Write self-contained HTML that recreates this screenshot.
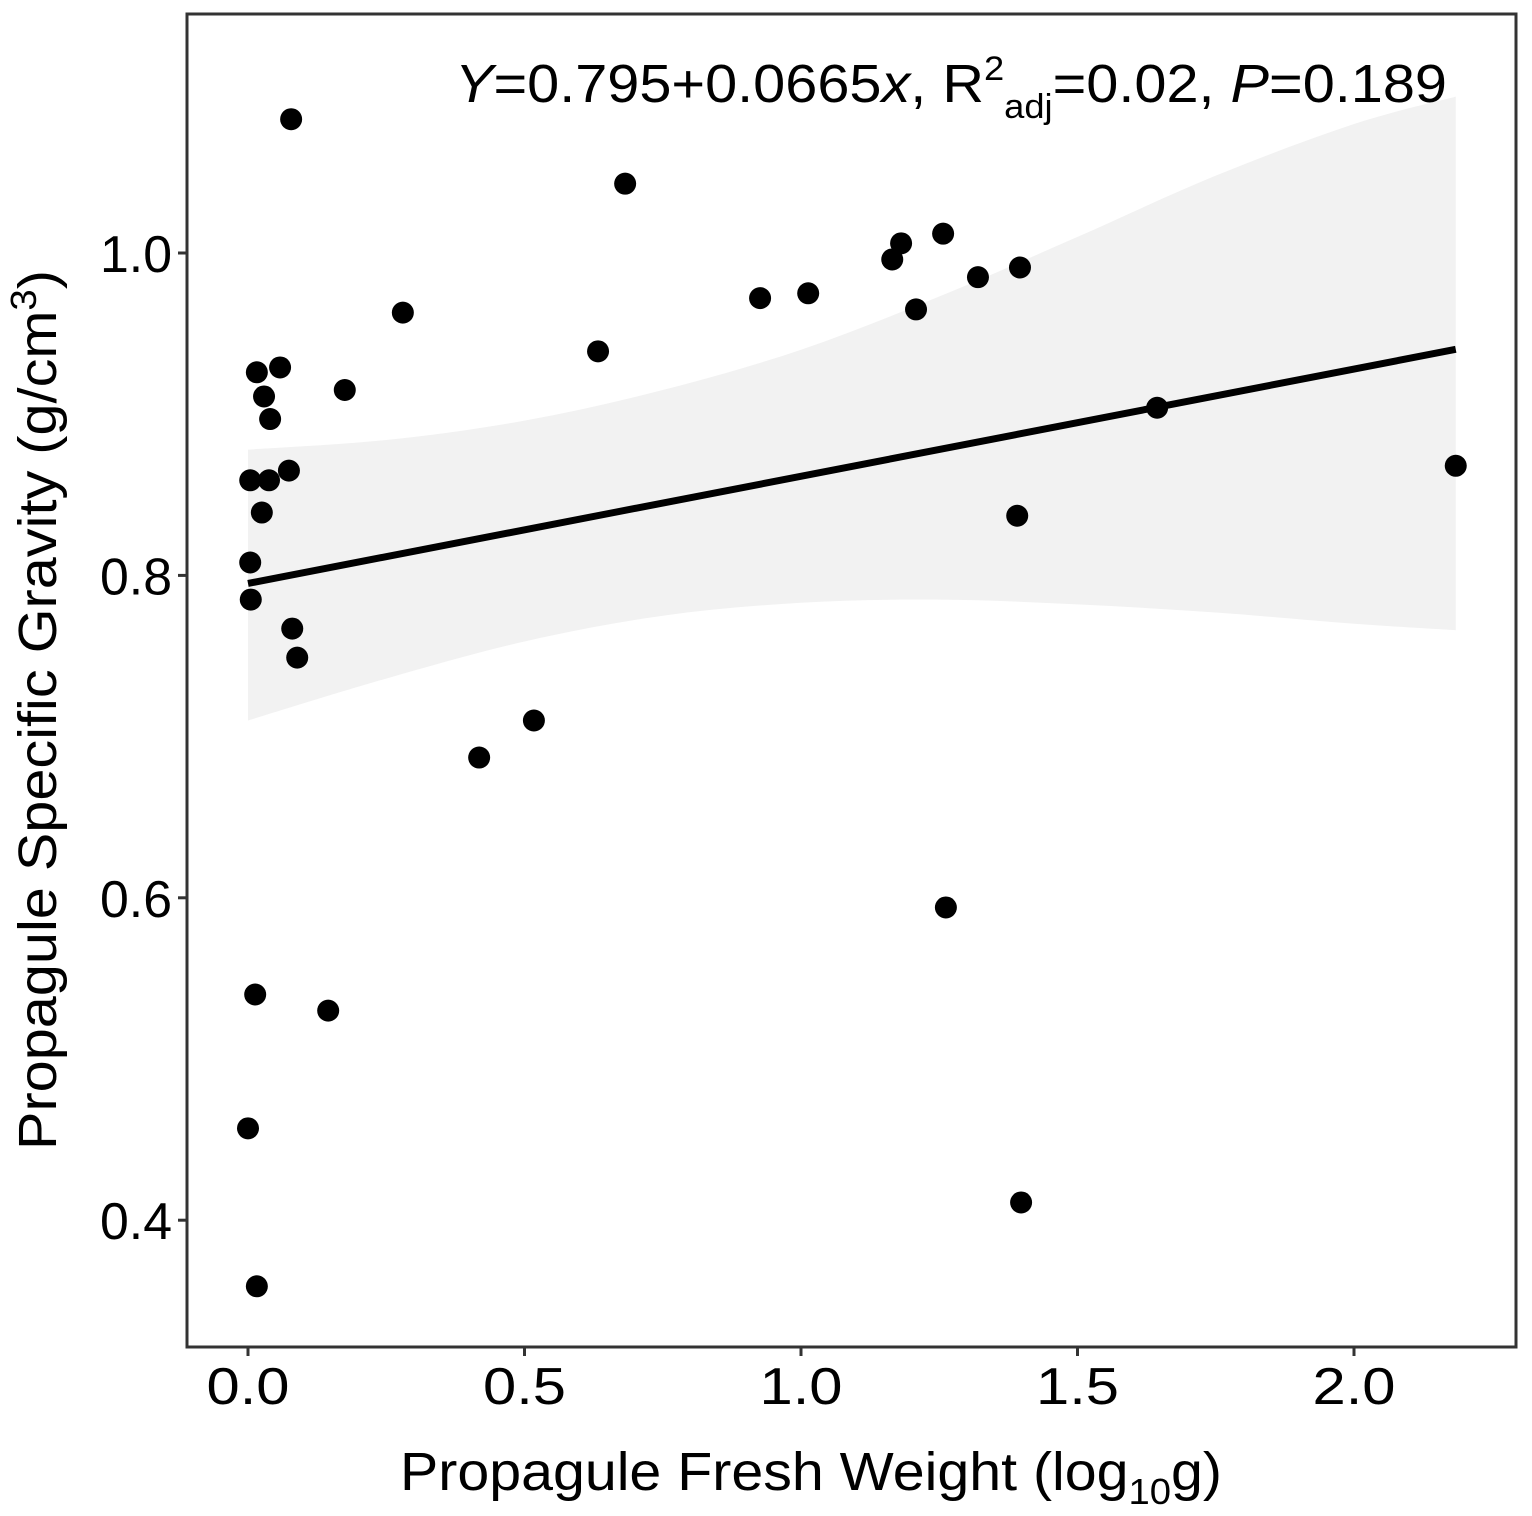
<!DOCTYPE html>
<html><head><meta charset="utf-8">
<style>
html,body{margin:0;padding:0;background:#fff;}
svg{display:block;font-family:"Liberation Sans",Arial,sans-serif;}
</style></head>
<body>
<svg id="chart" width="1532" height="1516" viewBox="0 0 1532 1516" xmlns="http://www.w3.org/2000/svg">
<rect x="0" y="0" width="1532" height="1516" fill="#fff"/>
<g id="band"></g>
<g id="line"></g>
<g id="points"></g>
<rect x="187" y="14" width="1329" height="1333" fill="none" stroke="#333" stroke-width="3"/>
<g id="xticks"></g>
<g id="yticks"></g>
<text x="455" y="102" font-size="54" fill="#000" textLength="992" lengthAdjust="spacingAndGlyphs"><tspan font-style="italic">Y</tspan>=0.795+0.0665<tspan font-style="italic">x</tspan>, R<tspan font-size="34" dy="-22">2</tspan><tspan font-size="34" dy="38">adj</tspan><tspan dy="-16">=0.02, </tspan><tspan font-style="italic">P</tspan>=0.189</text>
<text x="400" y="1490" font-size="54" fill="#000" textLength="822" lengthAdjust="spacingAndGlyphs">Propagule Fresh Weight (log<tspan font-size="36" dy="14">10</tspan><tspan dy="-14">g)</tspan></text>
<text transform="translate(56,1150) rotate(-90)" font-size="54" fill="#000" textLength="880" lengthAdjust="spacingAndGlyphs">Propagule Specific Gravity (g/cm<tspan font-size="36" dy="-20">3</tspan><tspan dy="20">)</tspan></text>
</svg>
<script>
const xVals=[0.078,0.682,1.257,1.181,1.165,1.320,1.396,1.013,0.926,1.208,0.280,0.633,0.016,0.058,0.175,0.029,0.040,1.644,0.004,0.038,0.074,2.184,0.025,1.391,0.004,0.005,0.080,0.089,0.517,0.418,1.262,0.013,0.145,0.000,1.398,0.016];
const yVals=[1.083,1.043,1.012,1.006,0.996,0.985,0.991,0.975,0.972,0.965,0.963,0.939,0.926,0.929,0.915,0.911,0.897,0.904,0.859,0.859,0.865,0.868,0.839,0.837,0.808,0.785,0.767,0.749,0.710,0.687,0.594,0.540,0.530,0.457,0.411,0.359];
const intercept=0.795, slope=0.0665;
const bandX=[0,0.25,0.5,0.75,1.0,1.25,1.5,1.75,2.0,2.184];
const bandUpper=[0.878,0.884,0.896,0.915,0.940,0.973,1.010,1.048,1.080,1.097];
const bandLower=[0.710,0.736,0.759,0.775,0.783,0.785,0.782,0.777,0.770,0.766];
const xTicks=[0,0.5,1.0,1.5,2.0];
const xTickLabels=["0.0","0.5","1.0","1.5","2.0"];
const yTicks=[0.4,0.6,0.8,1.0];
const yTickLabels=["0.4","0.6","0.8","1.0"];
const NS="http://www.w3.org/2000/svg";
function sx(v){return 248+v*553;}
function sy(v){return 253+(1-v)*1612;}
function mk(tag,attrs,parent){const e=document.createElementNS(NS,tag);for(const k in attrs)e.setAttribute(k,attrs[k]);parent.appendChild(e);return e;}
function smooth(pts){let d="";for(let i=0;i<pts.length-1;i++){const p0=pts[Math.max(i-1,0)],p1=pts[i],p2=pts[i+1],p3=pts[Math.min(i+2,pts.length-1)];const c1=[p1[0]+(p2[0]-p0[0])/6,p1[1]+(p2[1]-p0[1])/6],c2=[p2[0]-(p3[0]-p1[0])/6,p2[1]-(p3[1]-p1[1])/6];d+="C"+c1+" "+c2+" "+p2;}return d;}
const up=bandX.map((x,i)=>[sx(x),sy(bandUpper[i])]);
const lo=bandX.map((x,i)=>[sx(x),sy(bandLower[i])]).reverse();
const d="M"+up[0]+smooth(up)+"L"+lo[0]+smooth(lo)+"Z";
const bp=mk("path",{d:d,fill:"#f2f2f2"},document.getElementById("band"));


const x0=0,x1=Math.max(...xVals);
const ln=mk("line",{x1:sx(x0),y1:sy(intercept+slope*x0),x2:sx(x1),y2:sy(intercept+slope*x1),stroke:"#000","stroke-width":7},document.getElementById("line"));


const pg=document.getElementById("points");
xVals.forEach((x,i)=>{
 const c=mk("circle",{cx:sx(x),cy:sy(yVals[i]),r:11,fill:"#000"},pg);
 
 
});
const xg=document.getElementById("xticks");
xTicks.forEach((t,i)=>{
 const l=mk("line",{x1:sx(t),y1:1347,x2:sx(t),y2:1356,stroke:"#333","stroke-width":3},xg);
 
 
 const tx=mk("text",{x:sx(t),y:1404,"text-anchor":"middle","font-size":52,fill:"#000",textLength:83,lengthAdjust:"spacingAndGlyphs"},xg);
 tx.textContent=xTickLabels[i];
 
 
});
const yg=document.getElementById("yticks");
yTicks.forEach((t,i)=>{
 const l=mk("line",{x1:178,y1:sy(t),x2:187,y2:sy(t),stroke:"#333","stroke-width":3},yg);
 
 
 const tx=mk("text",{x:172,y:sy(t)+19,"text-anchor":"end","font-size":52,fill:"#000",textLength:72,lengthAdjust:"spacingAndGlyphs"},yg);
 tx.textContent=yTickLabels[i];
 
 
});
</script>
</body></html>
